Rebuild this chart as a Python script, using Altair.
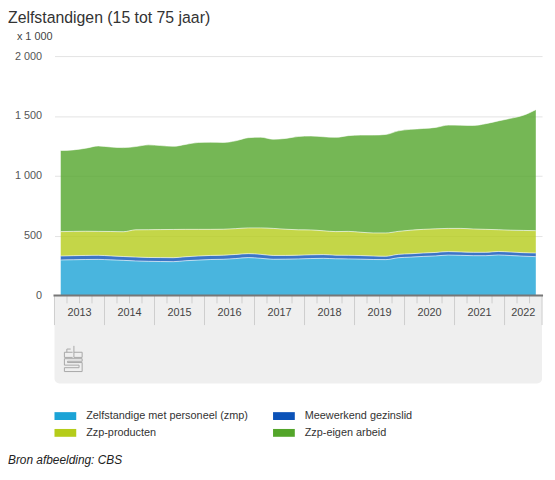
import altair as alt
import pandas as pd

years = list(range(2013, 2023))
# quarterly figures, 2013 Q1 .. 2022 Q3 (x 1 000)
periods = [f"{y} Q{q}" for y in years for q in range(1, 5)][:39]

zmp = [296, 298, 300, 301, 297, 293, 288, 285, 283, 282, 290, 295, 300, 302, 308, 316,
       310, 302, 303, 305, 308, 310, 306, 305, 303, 300, 299, 315, 320, 326, 330, 337,
       335, 332, 332, 338, 333, 328, 324]
meewerkend = [33, 34, 34, 34, 33, 32, 32, 32, 33, 33, 33, 34, 34, 34, 34, 33,
              33, 32, 31, 31, 31, 31, 30, 30, 30, 29, 28, 28, 28, 28, 29, 29,
              28, 28, 28, 29, 29, 29, 30]
producten = [204, 203, 202, 200, 204, 207, 228, 232, 234, 236, 229, 223, 218, 217, 216, 215,
             221, 226, 219, 212, 208, 199, 197, 200, 195, 193, 195, 192, 197, 198, 197, 194,
             197, 195, 192, 182, 183, 186, 187]
eigen_arbeid = [678, 681, 694, 714, 706, 703, 696, 709, 702, 695, 710, 726, 728, 725, 734, 754,
                758, 745, 759, 780, 785, 786, 788, 800, 812, 818, 823, 840, 843, 843, 848, 863,
                862, 865, 883, 909, 935, 962, 1011]

series = ["Zelfstandige met personeel (zmp)", "Meewerkend gezinslid",
          "Zzp-producten", "Zzp-eigen arbeid"]
colors = {"Zelfstandige met personeel (zmp)": "#1ba3d6", "Meewerkend gezinslid": "#0b52b8",
          "Zzp-producten": "#b5cc1a", "Zzp-eigen arbeid": "#53a52a"}
# legend is filled column by column
legend_order = [series[0], series[2], series[1], series[3]]

rows = []
for i, p in enumerate(periods):
    y, q = int(p[:4]), int(p[-1])
    for k, vals in enumerate([zmp, meewerkend, producten, eigen_arbeid]):
        rows.append({"periode": p, "t": y + (q - 0.5) / 4, "reeks": series[k],
                     "volgorde": k, "waarde": vals[i]})
df = pd.DataFrame(rows)

end = 2022.75
W, H = 493, 242
FONT = "Liberation Sans, Arial, sans-serif"
x_scale = alt.Scale(domain=[2013, end], nice=False, zero=False)

base = alt.Chart(df).transform_stack(
    stack="waarde", groupby=["t"], sort=[alt.SortField("volgorde")], as_=["y0", "y1"]
)

area = base.mark_area(interpolate="monotone", opacity=0.8).encode(
    x=alt.X("t:Q", scale=x_scale, axis=None),
    y=alt.Y("y1:Q", scale=alt.Scale(domain=[0, 2000], nice=False),
            axis=alt.Axis(values=[0, 500, 1000, 1500, 2000], title=None, domain=False,
                          ticks=False, labelPadding=13, labelFontSize=11, labelColor="#555",
                          labelFont=FONT, gridColor="#e3e3e3",
                          labelExpr="replace(format(datum.value, ','), ',', ' ')")),
    y2="y0:Q",
    color=alt.Color("reeks:N",
                    scale=alt.Scale(domain=legend_order, range=[colors[s] for s in legend_order]),
                    legend=alt.Legend(title=None, orient="none", legendX=0, legendY=353,
                                      columns=2, symbolType="M-1,-0.36H1V0.36H-1Z",
                                      symbolSize=484, symbolOpacity=1, symbolStrokeWidth=0,
                                      labelFontSize=11, labelColor="#333", labelFont=FONT,
                                      labelOffset=10, columnPadding=25, rowPadding=1,
                                      labelLimit=300)),
)

edges = base.mark_line(interpolate="monotone", color="white", strokeWidth=1, opacity=0.6).encode(
    x=alt.X("t:Q", scale=x_scale, axis=None),
    y="y1:Q",
    detail="reeks:N",
)

# grey panel under the time axis
panel = alt.Chart(pd.DataFrame({"a": [0]})).mark_rect(
    color="#efefef", cornerRadiusBottomLeft=5, cornerRadiusBottomRight=5
).encode(x=alt.value(0), x2=alt.value(W), y=alt.value(H), y2=alt.value(H + 89))

year_sep = alt.Chart(pd.DataFrame({"t": years + [end]})).mark_rule(color="#cdcdcd").encode(
    x=alt.X("t:Q", scale=x_scale, axis=None), y=alt.value(H), y2=alt.value(H + 30)
)
quarter_t = [y + k / 4 for y in years for k in (1, 2, 3) if y + k / 4 < end]
quarter_ticks = alt.Chart(pd.DataFrame({"t": quarter_t})).mark_rule(color="#cdcdcd").encode(
    x=alt.X("t:Q", scale=x_scale, axis=None), y=alt.value(H), y2=alt.value(H + 8)
)
axis_line = alt.Chart(pd.DataFrame({"a": [0]})).mark_rule(color="#777", strokeWidth=2).encode(
    x=alt.value(-1), x2=alt.value(W + 1), y=alt.value(H)
)
year_labels = alt.Chart(pd.DataFrame({
    "jaar": [str(y) for y in years],
    "mid": [(y + min(y + 1, end)) / 2 for y in years],
})).mark_text(fontSize=11, color="#444", font=FONT).encode(
    x=alt.X("mid:Q", scale=x_scale, axis=None), y=alt.value(H + 18), text="jaar:N"
)

logo_path = ("M-0.05,-0.5H-0.69V-0.1H-0.05 M-0.5,-0.5V-0.75H-0.2 "
             "M0.05,-1V-0.1H0.69V-0.5H0.05 "
             "M0.69,0H-0.69V0.5H0.45V0.7H-0.69V1H0.69V0.3H-0.45V0.2H0.69Z")
logo = alt.Chart(pd.DataFrame({"a": [0]})).mark_point(
    shape=logo_path, filled=False, stroke="#a8a8a8", strokeWidth=1, size=676, opacity=1
).encode(x=alt.value(19), y=alt.value(H + 64))


def label(tekst, x, y, **kw):
    return alt.Chart(pd.DataFrame({"tekst": [tekst]})).mark_text(
        align="left", baseline="alphabetic", font=FONT, **kw
    ).encode(x=alt.value(x), y=alt.value(y), text="tekst:N")


title = label("Zelfstandigen (15 tot 75 jaar)", -47, -33, fontSize=16, color="#333")
unit = label("x 1 000", -38, -16, fontSize=11, color="#444")
source = label("Bron afbeelding: CBS", -47, 412, fontSize=12, color="#222", fontStyle="italic")

chart = alt.layer(
    panel, area, edges, year_sep, quarter_ticks, axis_line, year_labels, logo,
    title, unit, source
).properties(
    width=W, height=H,
    autosize=alt.AutoSizeParams(type="none"),
    padding={"left": 47, "top": 46, "right": 5, "bottom": 180},
).configure_view(stroke=None)

chart.save("out.html", embed_options={"renderer": "svg", "actions": False})
